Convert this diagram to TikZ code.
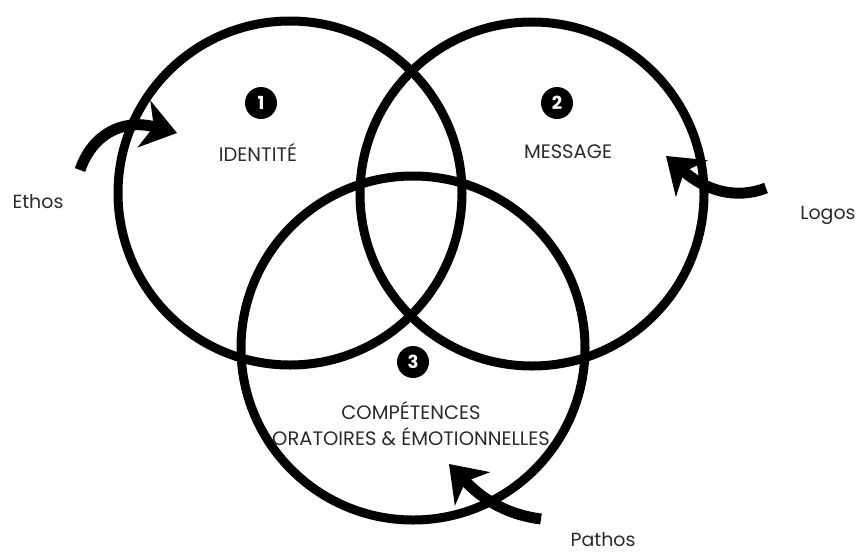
\documentclass[tikz,border=0pt]{standalone}
\usepackage{fontspec}
\setmainfont{Poppins}
\usetikzlibrary{arrows.meta}
\definecolor{txt}{HTML}{2B2B2B}

\begin{document}
\begin{tikzpicture}[x=1pt,y=-1pt,
    ring/.style={draw,circle,line width=9pt,minimum size=344pt,inner sep=0pt},
    num/.style={fill=black,circle,text=white,font=\bfseries\fontsize{18}{18}\selectfont,minimum size=32pt,inner sep=0pt},
    lab/.style={text=txt,font=\fontsize{19.5}{26}\selectfont,align=center},
    side/.style={text=txt,font=\fontsize{19}{20}\selectfont,inner sep=1pt},
    brush/.style={line width=11pt,-{Stealth[length=34pt,width=48pt,inset=10pt]}}]
    \useasboundingbox (0,0) rectangle (864,552);
    % the three circles
    \node[ring] (c1) at (290,193) {};
    \node[ring] (c2) at (532,194) {};
    \node[ring] (c3) at (413,348) {};
    % numbers and titles
    \node[num] (n1) at (261,103) {1};
    \node[num] (n2) at (557,103) {2};
    \node[num] (n3) at (413,362) {3};
    \node[lab] (t1) at (258,152) {IDENTITÉ};
    \node[lab] (t2) at (568,152) {MESSAGE};
    \node[lab] (t3) at (411,424) {COMPÉTENCES\\ORATOIRES \& ÉMOTIONNELLES};
    % outer labels
    \node[side] (ethos) at (38,202) {Ethos};
    \node[side] (logos) at (828,215) {Logos};
    \node[side] (pathos) at (603,540) {Pathos};
    % arrows
    \coordinate (ethostail) at (80,170);
    \coordinate (ethostip) at (177,133);
    \coordinate (logostail) at (766,188);
    \coordinate (logostip) at (666,156);
    \coordinate (pathostail) at (541,519);
    \coordinate (pathostip) at (449,464);
    \draw[brush] (ethostail) .. controls (92,135) and (122,118) .. (ethostip);
    \draw[brush] (logostail) .. controls (735,200) and (705,190) .. (logostip);
    \draw[brush] (pathostail) .. controls (510,515) and (485,502) .. (pathostip);
\end{tikzpicture}
\end{document}
